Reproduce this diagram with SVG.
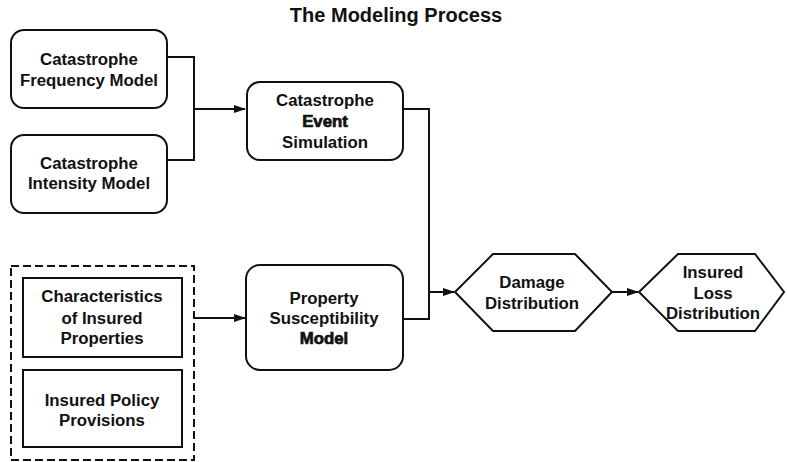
<svg xmlns="http://www.w3.org/2000/svg" width="787" height="462" viewBox="0 0 787 462">
  <defs>
    <style>
      .box { fill: #fff; stroke: #111; stroke-width: 2; }
      .dash { fill: none; stroke: #111; stroke-width: 2; stroke-dasharray: 8 4; }
      .wire { fill: none; stroke: #111; stroke-width: 2; }
      text { font-family: "Liberation Sans", Arial, sans-serif; font-weight: bold; font-size: 16.8px; fill: #111; text-anchor: middle; }
      .title { font-size: 20px; }
      .heavy { stroke: #111; stroke-width: 0.7; }
    </style>
    <marker id="arrow" markerWidth="12" markerHeight="9" refX="11" refY="4.5" orient="auto" markerUnits="userSpaceOnUse">
      <path d="M0,0.5 L12,4.5 L0,8.5 Z" fill="#111"/>
    </marker>
  </defs>
  <rect width="787" height="462" fill="#fff"/>

  <text class="title" x="396" y="22">The Modeling Process</text>

  <!-- connectors -->
  <g id="connectors">
    <path class="wire" d="M167,57 H194 V160 H167"/>
    <path class="wire" d="M194,109 H245" marker-end="url(#arrow)"/>
    <path class="wire" d="M403,109 H429 V319 H403"/>
    <path class="wire" d="M429,292 H454" marker-end="url(#arrow)"/>
    <path class="wire" d="M194,318 H245" marker-end="url(#arrow)"/>
    <path class="wire" d="M612,292 H638" marker-end="url(#arrow)"/>
  </g>

  <g id="frequency-model">
    <rect class="box" x="11" y="30" width="156" height="78" rx="13"/>
    <text x="89" y="65">Catastrophe</text>
    <text x="89" y="86">Frequency Model</text>
  </g>

  <g id="intensity-model">
    <rect class="box" x="11" y="135" width="156" height="78" rx="13"/>
    <text x="89" y="169">Catastrophe</text>
    <text x="89" y="189">Intensity Model</text>
  </g>

  <g id="event-simulation">
    <rect class="box" x="247" y="82" width="156" height="78" rx="13"/>
    <text x="325" y="106">Catastrophe</text>
    <text x="325" y="127" class="heavy">Event</text>
    <text x="325" y="148">Simulation</text>
  </g>

  <g id="susceptibility-model">
    <rect class="box" x="246" y="265" width="157" height="105" rx="14"/>
    <text x="324" y="304">Property</text>
    <text x="324" y="324">Susceptibility</text>
    <text x="324" y="344" class="heavy">Model</text>
  </g>

  <g id="exposure-inputs">
    <rect class="dash" x="11" y="266" width="183" height="194"/>
    <g id="insured-properties">
      <rect class="box" x="23" y="278" width="159" height="79"/>
      <text x="102" y="302">Characteristics</text>
      <text x="102" y="324">of Insured</text>
      <text x="102" y="344">Properties</text>
    </g>
    <g id="policy-provisions">
      <rect class="box" x="23" y="370" width="159" height="77"/>
      <text x="102" y="406">Insured Policy</text>
      <text x="102" y="426">Provisions</text>
    </g>
  </g>

  <g id="damage-distribution">
    <polygon class="box" points="455,292 493,254 575,254 612,292 575,331 493,331"/>
    <text x="532" y="288">Damage</text>
    <text x="532" y="309">Distribution</text>
  </g>

  <g id="insured-loss-distribution">
    <polygon class="box" points="639,292 678,254 755,254 784,292 755,331 678,331"/>
    <text x="713" y="278">Insured</text>
    <text x="713" y="299">Loss</text>
    <text x="713" y="319">Distribution</text>
  </g>
</svg>
